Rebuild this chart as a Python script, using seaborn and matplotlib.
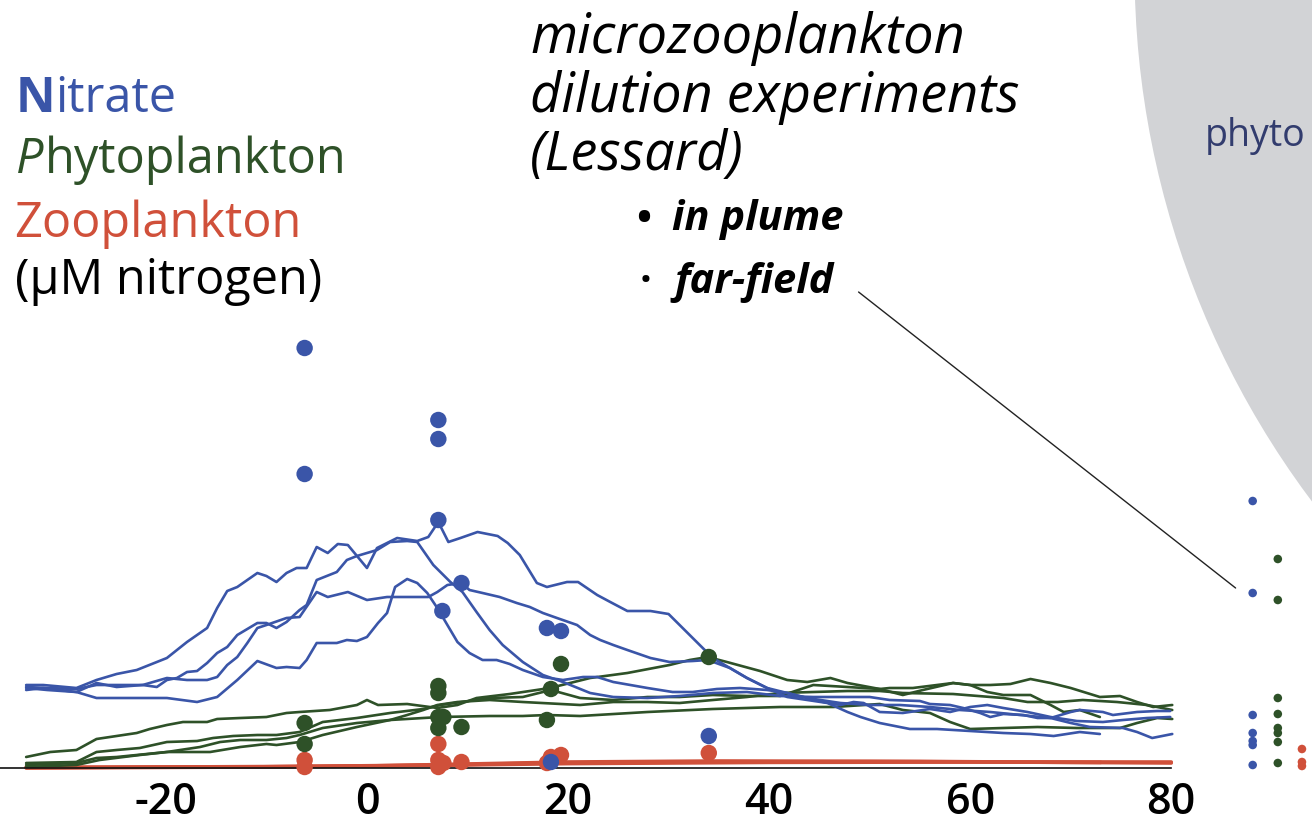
import matplotlib
matplotlib.use("Agg")
import matplotlib.pyplot as plt
from matplotlib.patches import Ellipse
import numpy as np
import pandas as pd
import seaborn as sns

# ---------------- transect tracks: distance vs concentration (uM N) ----------------
nitrate_1_x = [-33.9, -32.2, -28.9, -26.9, -24.9, -22.9, -19.9, -17.9, -15.9, -14.9, -13.9, -12.9, -10.9, -10.0,
               -9.0, -8.0, -7.0, -6.0, -5.0, -3.9, -2.9, -1.9, 0.0, 1.0, 3.0, 5.0, 6.1, 7.1, 8.1, 9.3, 11.0, 13.0,
               14.0, 15.2, 16.9, 17.9, 19.9, 21.0, 22.9, 24.2, 25.9, 28.2, 30.0, 31.1, 32.8, 34.4, 36.1, 37.8, 39.8,
               41.8, 43.8, 45.8, 47.8, 49.1, 51.0, 52.0, 54.0, 56.7, 60.0, 63.3, 66.0, 68.3, 70.9, 72.9]
nitrate_1_y = [4.15, 4.15, 4.0, 4.4, 4.7, 4.9, 5.5, 6.3, 7.0, 8.0, 8.85, 9.05, 9.75, 9.6, 9.3, 9.75, 10.0, 10.0,
               11.05, 10.75, 11.2, 11.15, 10.0, 11.0, 11.5, 11.35, 11.55, 12.3, 11.3, 11.5, 11.8, 11.6, 11.25, 10.65,
               9.25, 9.05, 9.3, 9.3, 8.65, 8.3, 7.85, 7.85, 7.7, 7.15, 6.3, 5.5, 5.0, 4.5, 4.0, 3.55, 3.4, 3.25, 2.8,
               2.55, 2.25, 2.15, 1.95, 1.95, 1.85, 1.75, 1.7, 1.6, 1.8, 1.7]

nitrate_2_x = [-33.9, -31.8, -28.9, -26.9, -24.9, -22.3, -20.9, -19.9, -18.9, -17.9, -16.9, -15.9, -14.9, -13.9,
               -12.9, -10.9, -10.0, -9.0, -8.0, -6.7, -6.0, -5.0, -3.0, -2.0, -1.0, 1.0, 2.3, 4.0, 5.0, 6.6, 8.3, 9.5,
               10.9, 12.2, 13.5, 15.5, 17.5, 19.5, 22.2, 24.5, 27.9, 31.1, 34.4, 37.8, 41.1, 44.4, 48.1, 50.0, 52.0,
               55.0, 56.0, 58.0, 59.3, 61.0, 62.0, 63.3, 65.3, 66.7, 68.0, 70.0, 70.9, 73.2, 74.2, 76.6, 78.6, 79.9]
nitrate_2_y = [4.05, 4.0, 3.95, 4.15, 4.15, 4.15, 4.05, 4.4, 4.5, 4.8, 4.85, 5.25, 5.75, 6.05, 6.65, 7.25, 7.25,
               7.0, 7.3, 7.9, 8.15, 9.4, 9.8, 10.4, 10.6, 10.9, 11.3, 11.35, 11.3, 10.15, 9.3, 8.8, 7.8, 6.9, 6.15,
               5.3, 4.65, 4.3, 3.75, 3.55, 3.5, 3.6, 3.75, 3.8, 3.6, 3.55, 3.55, 3.55, 3.4, 3.35, 3.2, 3.15, 3.0, 2.75,
               2.55, 2.7, 2.65, 2.5, 2.5, 2.8, 2.9, 2.8, 2.65, 2.8, 2.85, 2.85]

nitrate_3_x = [-33.9, -31.8, -28.9, -26.9, -24.9, -22.3, -19.9, -17.9, -15.9, -14.9, -13.9, -12.9, -11.9, -10.9,
               -10.0, -8.0, -6.7, -5.0, -3.9, -1.9, 0.0, 2.0, 6.1, 7.0, 8.0, 9.4, 10.2, 11.5, 13.2, 14.9, 16.2, 17.5,
               18.9, 20.9, 22.2, 23.2, 24.5, 25.9, 28.2, 30.1, 32.4, 33.9, 36.1, 37.8, 39.8, 41.8, 43.8, 45.4, 47.1,
               48.4, 49.4, 51.0, 53.3, 56.0, 58.0, 60.0, 61.7, 63.3, 65.7, 68.0, 70.6, 73.2, 75.2, 77.6, 79.9]
nitrate_3_y = [4.0, 3.9, 3.8, 4.25, 4.05, 4.15, 4.5, 4.4, 4.4, 4.55, 5.15, 5.55, 6.25, 7.0, 7.15, 7.5, 7.55, 8.8,
               8.55, 8.8, 8.4, 8.55, 8.55, 8.8, 9.15, 9.25, 8.9, 8.75, 8.55, 8.25, 8.05, 7.75, 7.5, 7.15, 6.65, 6.4,
               6.15, 5.9, 5.5, 5.3, 5.35, 5.4, 5.0, 4.5, 4.0, 3.75, 3.5, 3.3, 3.15, 3.3, 3.25, 2.8, 2.75, 2.95, 2.8,
               3.05, 3.15, 3.0, 2.8, 2.55, 2.35, 2.3, 2.4, 2.5, 2.55]

nitrate_4_x = [-33.9, -32.2, -28.9, -26.9, -24.9, -22.3, -19.9, -16.9, -14.9, -12.9, -10.9, -9.0, -8.0, -6.7, -6.0,
               -5.0, -3.0, -2.0, -1.0, 0.0, 1.1, 2.0, 2.8, 4.0, 5.0, 6.0, 7.0, 8.0, 9.0, 10.2, 11.5, 12.9, 14.2, 15.5,
               17.5, 19.5, 21.5, 22.9, 24.5, 27.9, 30.4, 32.4, 34.8, 37.1, 39.8, 41.8, 43.8, 47.1, 50.0, 53.0, 56.0,
               59.0, 62.0, 65.0, 68.0, 70.0, 71.9, 75.2, 76.6, 78.1, 80.1]
nitrate_4_y = [3.9, 4.0, 3.8, 3.5, 3.5, 3.5, 3.5, 3.3, 3.55, 4.4, 5.35, 5.0, 5.05, 5.0, 5.4, 6.25, 6.25, 6.4, 6.35,
               6.55, 7.25, 7.75, 9.05, 9.45, 9.25, 8.75, 8.0, 7.15, 6.3, 5.75, 5.4, 5.4, 5.2, 4.9, 4.55, 4.4, 4.55,
               4.55, 4.3, 4.0, 3.8, 3.8, 3.95, 4.0, 3.9, 3.75, 3.5, 3.25, 3.15, 3.15, 3.05, 2.9, 2.8, 2.65, 2.5, 2.25,
               2.05, 2.0, 1.8, 1.5, 1.7]

phyto_1_x = [-33.9, -31.5, -28.9, -26.9, -24.9, -22.9, -21.6, -19.9, -18.3, -15.9, -14.9, -12.6, -10.0, -8.0, -6.7,
             -3.7, -1.0, 0.0, 1.1, 4.0, 7.0, 9.0, 10.9, 14.2, 18.2, 22.2, 25.9, 30.1, 32.1, 33.9, 35.8, 39.1, 41.8,
             43.8, 46.1, 47.8, 51.0, 53.3, 55.3, 58.3, 60.0, 61.7, 63.3, 66.0, 68.0, 69.3, 70.9, 72.9]
phyto_1_y = [0.55, 0.8, 0.9, 1.45, 1.6, 1.75, 1.95, 2.15, 2.3, 2.3, 2.45, 2.5, 2.55, 2.75, 2.8, 2.9, 3.15, 3.4,
             3.15, 3.2, 3.0, 3.15, 3.5, 3.7, 4.0, 4.5, 4.75, 5.15, 5.4, 5.55, 5.3, 4.85, 4.4, 4.3, 4.5, 4.25, 3.95,
             3.65, 3.9, 4.25, 4.15, 3.8, 3.65, 3.65, 3.15, 2.8, 2.9, 2.55]

phyto_2_x = [-33.9, -28.9, -26.9, -24.9, -22.6, -19.9, -16.9, -15.3, -13.3, -10.9, -9.0, -6.7, -4.4, -1.0, 2.3,
             5.6, 7.3, 12.2, 15.5, 18.3, 21.2, 24.5, 27.9, 31.1, 34.4, 37.8, 41.1, 44.4, 47.8, 51.0, 52.0, 54.3, 56.7,
             58.3, 60.0, 62.0, 64.0, 66.0, 68.0, 70.0, 72.9, 74.9, 76.6, 78.2, 80.1]
phyto_2_y = [0.25, 0.3, 0.8, 0.9, 1.0, 1.3, 1.35, 1.5, 1.6, 1.65, 1.65, 1.8, 2.3, 2.5, 2.75, 2.95, 3.15, 3.5, 3.55,
             3.9, 3.5, 3.4, 3.55, 3.55, 3.65, 3.6, 3.6, 4.15, 4.05, 3.95, 4.0, 4.0, 4.15, 4.25, 4.15, 4.15, 4.2, 4.45,
             4.25, 4.0, 3.55, 3.6, 3.3, 3.05, 3.15]

phyto_3_x = [-33.9, -28.9, -26.9, -24.9, -19.9, -16.6, -14.6, -12.6, -10.0, -8.0, -6.7, -4.4, -1.0, 2.3, 5.6, 7.3,
             12.2, 15.5, 17.9, 21.2, 27.9, 34.4, 41.1, 46.4, 51.0, 53.3, 56.0, 58.0, 60.0, 63.3, 66.7, 70.6, 74.9,
             76.6, 78.6, 80.1]
phyto_3_y = [0.15, 0.25, 0.5, 0.55, 0.8, 1.05, 1.3, 1.4, 1.4, 1.5, 1.65, 2.0, 2.25, 2.4, 2.5, 2.55, 2.6, 2.6, 2.65,
             2.6, 2.8, 2.95, 3.05, 3.05, 3.2, 2.9, 2.75, 2.3, 1.95, 2.0, 2.05, 2.0, 2.0, 2.25, 2.5, 2.45]

phyto_4_x = [-33.9, -28.9, -26.6, -22.6, -19.9, -15.6, -12.6, -10.0, -9.0, -6.7, -4.4, -1.0, 2.3, 4.0, 5.6, 7.0,
             9.0, 12.2, 15.5, 21.2, 24.5, 27.9, 31.1, 34.4, 37.8, 41.1, 44.4, 47.8, 51.0, 53.3, 58.3, 63.3, 65.7,
             68.7, 71.2, 74.6, 77.6, 80.1]
phyto_4_y = [0.05, 0.15, 0.4, 0.65, 0.8, 0.8, 1.05, 1.2, 1.15, 1.3, 1.65, 2.05, 2.4, 2.65, 2.9, 3.15, 3.3, 3.4, 3.3,
             3.15, 3.3, 3.3, 3.25, 3.4, 3.55, 3.75, 3.8, 3.85, 3.85, 3.75, 3.7, 3.5, 3.3, 3.3, 3.4, 3.3, 3.15, 2.9]

zoo_1_x = [-33.9, -20.0, -6.2, 7.1, 18.0, 34.0, 50.0, 65.0, 80.0]
zoo_1_y = [0.02, 0.05, 0.08, 0.15, 0.25, 0.30, 0.32, 0.30, 0.30]
zoo_2_x = [-33.9, -15.0, 0.0, 10.0, 20.0, 35.0, 55.0, 70.0, 80.0]
zoo_2_y = [0.00, 0.04, 0.10, 0.20, 0.30, 0.35, 0.33, 0.28, 0.25]
zoo_3_x = [-33.9, -10.0, 5.0, 20.0, 40.0, 60.0, 73.0]
zoo_3_y = [0.03, 0.06, 0.12, 0.22, 0.28, 0.30, 0.28]

# ---------------- dilution experiments in the plume ----------------
plume_nitrate_x = [-6.2, -6.2, 7.1, 7.1, 7.1, 7.5, 9.4, 17.9, 19.3, 34.0, 18.3]
plume_nitrate_y = [21.0, 14.7, 17.4, 16.45, 12.4, 7.85, 9.25, 7.0, 6.85, 1.6, 0.3]
plume_phyto_x = [-6.2, -6.2, 7.1, 7.1, 7.1, 7.6, 7.1, 9.4, 18.3, 19.3, 17.9, 34.0]
plume_phyto_y = [2.25, 1.2, 4.1, 3.75, 2.55, 2.55, 2.0, 2.05, 3.95, 5.2, 2.4, 5.55]
plume_zoo_x = [-6.2, -6.2, 7.1, 7.1, 7.6, 7.1, 9.4, 18.3, 19.3, 17.9, 34.0]
plume_zoo_y = [0.4, 0.05, 1.2, 0.4, 0.25, 0.05, 0.3, 0.55, 0.65, 0.25, 0.75]

# ---------------- far-field experiments, shown as side columns ----------------
far_x = {"Nitrate": 88.1, "Phytoplankton": 90.6, "Zooplankton": 93.0}
far_nitrate_y = [13.35, 8.75, 2.65, 1.75, 1.35, 1.15, 0.15]
far_phyto_y = [10.45, 8.4, 3.5, 2.7, 2.0, 1.75, 1.3, 0.25]
far_zoo_y = [0.95, 0.3, 0.1]

x_ticks = [-20, 0, 20, 40, 60, 80]

NITRATE_C = "#3A55A8"
PHYTO_C = "#2E5128"
ZOO_C = "#D0503A"
palette = {"Nitrate": NITRATE_C, "Phytoplankton": PHYTO_C, "Zooplankton": ZOO_C}

# ---------------- long-form tables ----------------
tracks = [
    ("Phytoplankton", "p1", phyto_1_x, phyto_1_y),
    ("Phytoplankton", "p2", phyto_2_x, phyto_2_y),
    ("Phytoplankton", "p3", phyto_3_x, phyto_3_y),
    ("Phytoplankton", "p4", phyto_4_x, phyto_4_y),
    ("Nitrate", "n1", nitrate_1_x, nitrate_1_y),
    ("Nitrate", "n2", nitrate_2_x, nitrate_2_y),
    ("Nitrate", "n3", nitrate_3_x, nitrate_3_y),
    ("Nitrate", "n4", nitrate_4_x, nitrate_4_y),
]
zoo_tracks = [
    ("Zooplankton", "z1", zoo_1_x, zoo_1_y),
    ("Zooplankton", "z2", zoo_2_x, zoo_2_y),
    ("Zooplankton", "z3", zoo_3_x, zoo_3_y),
]


def long_table(rows):
    return pd.concat(
        [pd.DataFrame({"distance": xs, "conc": ys, "variable": var, "track": name})
         for var, name, xs, ys in rows],
        ignore_index=True,
    )


line_df = long_table(tracks)
zoo_df = long_table(zoo_tracks)

plume_df = pd.concat([
    pd.DataFrame({"distance": plume_zoo_x, "conc": plume_zoo_y, "variable": "Zooplankton"}),
    pd.DataFrame({"distance": plume_phyto_x, "conc": plume_phyto_y, "variable": "Phytoplankton"}),
    pd.DataFrame({"distance": plume_nitrate_x, "conc": plume_nitrate_y, "variable": "Nitrate"}),
], ignore_index=True)

far_df = pd.concat([
    pd.DataFrame({"distance": far_x["Nitrate"], "conc": far_nitrate_y, "variable": "Nitrate"}),
    pd.DataFrame({"distance": far_x["Phytoplankton"], "conc": far_phyto_y, "variable": "Phytoplankton"}),
    pd.DataFrame({"distance": far_x["Zooplankton"], "conc": far_zoo_y, "variable": "Zooplankton"}),
], ignore_index=True)

# ---------------- figure ----------------
sns.set_theme(style="white")
plt.rcParams["font.family"] = ["Open Sans", "DejaVu Sans"]

W, H = 1312, 825
fig = plt.figure(figsize=(W / 100, H / 100), dpi=100)
ax = fig.add_axes([0, 0, 1, 1])
ax.set_xlim(-36.5, 94.0)
ax.set_ylim(-2.85, 38.4)
ax.patch.set_alpha(0)

# grey phytoplankton bubble at the top right
ax.add_patch(Ellipse((164.4, 39.9), 176.1, 88.5, facecolor="#D2D3D6", edgecolor="none", zorder=0))
ax.text(83.3, 31.1, "phyto", color="#323C6E", fontsize=27, ha="left", va="baseline", zorder=1)

sns.lineplot(data=zoo_df, x="distance", y="conc", hue="variable", units="track", estimator=None,
             sort=False, palette=palette, linewidth=2.6, legend=False, ax=ax, zorder=2)
sns.lineplot(data=line_df, x="distance", y="conc", hue="variable", units="track", estimator=None,
             sort=False, palette=palette, linewidth=1.9, legend=False, ax=ax, zorder=2)
sns.scatterplot(data=plume_df, x="distance", y="conc", hue="variable", palette=palette, s=140,
                linewidth=0, legend=False, ax=ax, zorder=4)
sns.scatterplot(data=far_df, x="distance", y="conc", hue="variable", palette=palette, s=38,
                linewidth=0, legend=False, ax=ax, zorder=4)

# leader from the "far-field" label to the far-field column
ax.annotate("", xy=(far_x["Nitrate"] - 1.7, far_nitrate_y[1] + 0.25), xytext=(48.9, 23.8),
            arrowprops=dict(arrowstyle="-", color="#222222", lw=1.0, shrinkA=0, shrinkB=0))

# axis styling
for side in ("top", "right", "left"):
    ax.spines[side].set_visible(False)
ax.spines["bottom"].set_position(("data", 0))
ax.spines["bottom"].set_bounds(-36.5, 80)
ax.spines["bottom"].set_color("#111111")
ax.spines["bottom"].set_linewidth(1.2)
ax.set_xticks(x_ticks)
ax.set_xticklabels([str(t) for t in x_ticks], fontweight="semibold")
ax.set_yticks([])
ax.tick_params(axis="x", direction="in", length=10.8, width=1, color="#555555",
               labelsize=31, pad=9, labelcolor="black")
ax.set_xlabel("")
ax.set_ylabel("")


def ftext(px, py, s, **kw):
    return fig.text(px / W, 1 - py / H, s, va="baseline", ha="left", **kw)


renderer = fig.canvas.get_renderer()

# variable key
LEG = 35
n = ftext(16, 112, "N", color=NITRATE_C, fontsize=LEG, weight="bold")
nb = n.get_window_extent(renderer)
ftext(nb.x1, 112, "itrate", color=NITRATE_C, fontsize=LEG)
p = ftext(16, 173, "P", color=PHYTO_C, fontsize=LEG, style="italic")
pb = p.get_window_extent(renderer)
ftext(pb.x1 + 1, 173, "hytoplankton", color=PHYTO_C, fontsize=LEG)
ftext(14, 237, "Zooplankton", color=ZOO_C, fontsize=LEG)
ftext(15, 294, "(\u00b5M nitrogen)", color="black", fontsize=LEG)

# experiment notes
TTL = 39
ftext(530, 53, "microzooplankton", fontsize=TTL, style="italic", color="black")
ftext(530, 112, "dilution experiments", fontsize=TTL, style="italic", color="black")
ftext(530, 170, "(Lessard)", fontsize=TTL, style="italic", color="black")
ftext(636, 230, "\u2022", fontsize=29, weight="bold", color="black")
ftext(672, 230, "in plume", fontsize=30, weight="bold", style="italic", color="black")
ftext(640, 293, "\u00b7", fontsize=30, weight="bold", color="black")
ftext(674, 293, "far-field", fontsize=30, weight="bold", style="italic", color="black")

fig.savefig("out.png", dpi=100)
